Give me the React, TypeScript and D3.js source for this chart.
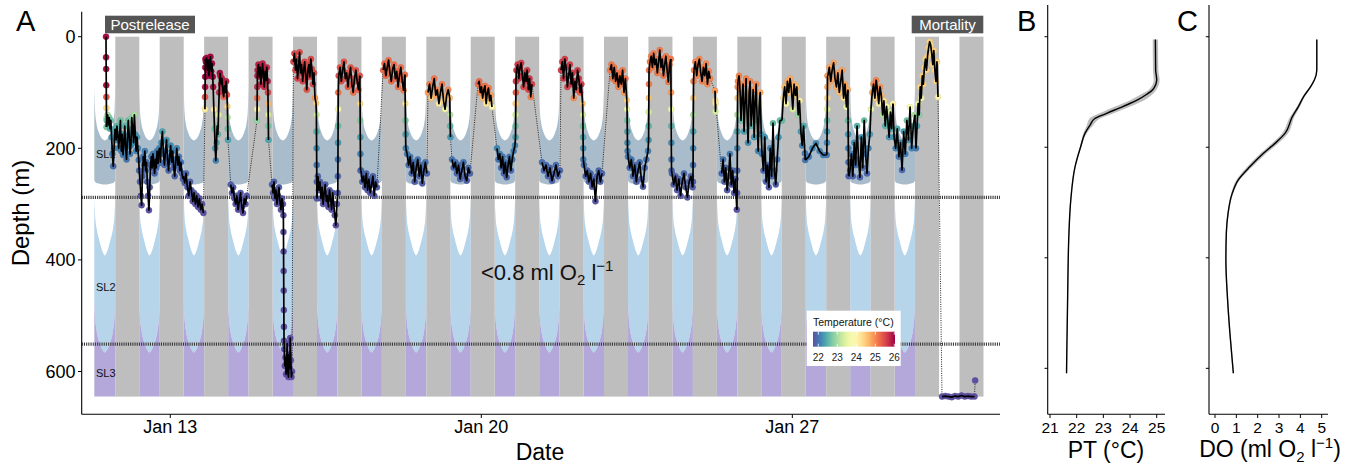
import React from 'react';
import * as d3 from 'd3';

const W = 1354;
const H = 466;
const FONT = 'Liberation Sans, Arial, Helvetica, sans-serif';

// ---------- data ----------
const nightStarts = [11.762, 12.762, 13.762, 14.762, 15.762, 16.762, 17.762, 18.762, 19.762, 20.762,
  21.762, 22.762, 23.762, 24.762, 25.762, 26.762, 27.762, 28.762, 29.762, 30.762];
const nightEnds = [12.302, 13.302, 14.302, 15.302, 16.302, 17.302, 18.302, 19.302, 20.302, 21.302,
  22.302, 23.302, 24.302, 25.302, 26.302, 27.302, 28.302, 29.302, 30.302, 31.302];
const dayStarts = [11.290, 12.302, 13.302, 14.302, 15.302, 16.302, 17.302, 18.302, 19.302, 20.302,
  21.302, 22.302, 23.302, 24.302, 25.302, 26.302, 27.302, 28.302, 29.302];
const dayEnds = [11.762, 12.762, 13.762, 14.762, 15.762, 16.762, 17.762, 18.762, 19.762, 20.762,
  21.762, 22.762, 23.762, 24.762, 25.762, 26.762, 27.762, 28.762, 29.762];
const seafloor = 645;

// scattering-layer boundaries across a daytime column (fraction of column)
const shapePos = [0, 0.04, 0.1, 0.2, 0.3, 0.4, 0.5, 0.6, 0.7, 0.8, 0.9, 0.96, 1];
const sl1Top = [90, 135, 155, 170, 179, 184, 186, 184, 179, 170, 155, 135, 90];
const sl1Bottom = [258, 260, 262, 263, 264, 265, 265, 265, 264, 263, 262, 260, 258];
const sl2Top = [290, 322, 342, 360, 374, 386, 392, 386, 374, 360, 342, 322, 290];
const sl3Top = [478, 505, 525, 543, 554, 562, 566, 562, 554, 543, 525, 505, 478];

const layerLines = [288, 551];
const layerLabels = [
  { name: 'SL1', depth: 210 },
  { name: 'SL2', depth: 448 },
  { name: 'SL3', depth: 602 },
];

const dateTicks = [13, 20, 27];
const dateTickLabels = ['Jan 13', 'Jan 20', 'Jan 27'];
const depthTicks = [0, 200, 400, 600];
const depthTickLabels = ['0', '200', '400', '600'];
const ptTicks = [21, 22, 23, 24, 25];
const doTicks = [0, 1, 2, 3, 4, 5];
const legendTicks = [22, 23, 24, 25, 26];

// Mean potential temperature profile (panel B)
const ptDepth = [5, 60, 78, 96, 105, 114, 126, 139, 148, 160, 175, 199, 235, 295, 356, 476, 609];
const ptTemp = [24.95, 24.96, 25.0, 24.85, 24.6, 24.3, 23.75, 23.1, 22.68, 22.5, 22.31, 22.15, 21.94, 21.78, 21.71, 21.66, 21.62];
const ptSpread = [0.1, 0.1, 0.11, 0.14, 0.22, 0.26, 0.28, 0.26, 0.2, 0.12, 0.06, 0.03, 0.02, 0.02, 0.02, 0.02, 0.02];

// Mean dissolved-oxygen profile (panel C)
const doDepth = [5, 60, 78, 90, 108, 127, 145, 175, 193, 211, 235, 259, 283, 320, 356, 404, 476, 537, 609];
const doVal = [4.77, 4.77, 4.66, 4.49, 4.16, 3.9, 3.62, 3.28, 2.81, 2.27, 1.64, 1.09, 0.81, 0.61, 0.53, 0.51, 0.59, 0.70, 0.86];
const doSpread = [0.03, 0.03, 0.03, 0.04, 0.05, 0.07, 0.1, 0.14, 0.15, 0.14, 0.12, 0.08, 0.05, 0.03, 0.03, 0.03, 0.03, 0.03, 0.03];

// Depth track: [start day, end day, gap before (dotted), mixed-layer temp, depths]
type Seg = [number, number, number, number, number[]];
const track: Seg[] = [
  [11.553, 11.566, 0, 26.0, [0, 37, 58, 87, 108, 128, 146, 162]],
  [11.570, 11.752, 0, 25.0, [150, 140, 158, 145, 165, 150, 180, 210, 232, 200, 170]],
  [11.760, 12.290, 0, 25.0, [165, 185, 160, 175, 200, 180, 150, 205, 175, 212, 190, 160, 200, 220, 185, 150, 175, 210, 195, 145, 165, 190, 140, 175, 205, 180, 200, 221]],
  [12.300, 12.720, 0, 25.0, [240, 260, 285, 302, 250, 215, 230, 205, 240, 225, 260, 285, 311, 270, 230, 215, 235, 210, 225, 245, 220, 235, 205, 228]],
  [12.730, 13.285, 0, 25.0, [215, 200, 225, 190, 170, 210, 230, 205, 185, 220, 240, 215, 195, 225, 205, 235, 250, 220, 200, 230, 215, 240, 225, 245, 255]],
  [13.295, 13.745, 0, 25.0, [250, 262, 245, 270, 285, 260, 275, 295, 280, 300, 285, 305, 290, 310, 300, 316]],
  [13.780, 13.790, 1, 26.0, [130, 108, 90, 72, 55, 40]],
  [13.800, 13.955, 0, 26.0, [45, 38, 60, 42, 70, 50, 36, 62, 48, 72]],
  [13.965, 14.115, 0, 26.0, [90, 130, 165, 200, 222, 190, 160, 175, 140, 100, 65]],
  [14.125, 14.275, 0, 25.8, [70, 85, 75, 95, 108, 88, 100, 80, 104]],
  [14.285, 14.298, 0, 25.8, [125, 145, 165, 185]],
  [14.360, 14.720, 1, 25.0, [265, 280, 270, 290, 300, 285, 310, 295, 280, 305, 316, 290, 300, 285]],
  [14.951, 14.960, 1, 25.8, [150, 130, 110, 90, 70]],
  [14.965, 15.190, 0, 25.8, [60, 50, 72, 55, 85, 65, 48, 70, 90, 62, 78, 55, 80]],
  [15.198, 15.210, 0, 25.8, [100, 120, 140, 160, 185]],
  [15.290, 15.535, 1, 25.0, [265, 280, 260, 290, 275, 300, 285, 270, 295, 310, 290, 300]],
  [15.545, 15.560, 0, 25.0, [320, 350, 385, 420, 455, 490, 520, 545]],
  [15.565, 15.740, 0, 25.0, [560, 590, 575, 605, 585, 550, 600, 610, 570, 595, 540, 580, 610, 600]],
  [15.770, 16.280, 1, 25.5, [45, 30, 60, 40, 75, 55, 28, 65, 50, 80, 60, 45, 70, 95, 60, 50, 72, 40, 58, 85, 65, 110, 119]],
  [16.288, 16.300, 0, 25.5, [140, 170, 200, 230, 260, 290]],
  [16.320, 16.750, 0, 25.0, [250, 275, 260, 290, 270, 300, 280, 265, 295, 285, 305, 275, 290, 310, 280, 300, 320, 338, 300]],
  [16.770, 16.780, 0, 25.4, [280, 250, 220, 190, 160, 130, 100]],
  [16.790, 17.265, 0, 25.4, [70, 55, 80, 60, 45, 75, 65, 90, 70, 55, 85, 100, 75, 60, 80, 95, 70]],
  [17.272, 17.282, 0, 25.4, [120, 150, 180, 210, 240]],
  [17.292, 17.650, 0, 25.0, [240, 260, 250, 270, 245, 275, 255, 280, 265, 250, 285, 260, 270]],
  [17.790, 18.280, 1, 25.2, [60, 48, 70, 55, 42, 65, 80, 58, 50, 75, 62, 90, 70, 55, 78, 96, 68]],
  [18.288, 18.300, 0, 25.2, [120, 150, 175, 200]],
  [18.330, 18.775, 0, 25.0, [210, 230, 215, 245, 225, 260, 235, 220, 250, 230, 263, 240, 225, 245]],
  [18.800, 19.290, 1, 25.1, [100, 85, 110, 90, 75, 105, 95, 120, 100, 85, 115, 130, 105, 95, 110]],
  [19.295, 19.305, 0, 25.1, [140, 160, 180]],
  [19.340, 19.745, 1, 25.0, [220, 235, 225, 245, 230, 255, 240, 225, 250, 258, 235, 245]],
  [19.925, 20.240, 1, 25.2, [85, 80, 100, 90, 110, 95, 88, 120, 100, 92, 115, 105, 126]],
  [20.353, 20.758, 1, 25.0, [200, 220, 210, 235, 215, 245, 225, 252, 230, 215, 240, 220, 205, 195]],
  [20.770, 20.780, 0, 25.6, [180, 160, 140, 120, 100, 80]],
  [20.790, 21.140, 0, 25.6, [60, 50, 75, 55, 47, 70, 90, 65, 80, 60, 95, 75, 108, 85]],
  [21.366, 21.770, 1, 25.0, [225, 240, 230, 250, 235, 258, 245, 230, 250, 240]],
  [21.794, 22.280, 1, 25.6, [60, 45, 75, 40, 55, 90, 70, 50, 85, 65, 110, 80, 95, 60, 75, 100, 85, 120]],
  [22.285, 22.295, 0, 25.6, [140, 160, 180, 200, 220]],
  [22.311, 22.716, 0, 25.0, [230, 250, 240, 260, 245, 269, 255, 295, 250, 240, 260, 245]],
  [22.897, 23.275, 1, 25.1, [60, 50, 75, 55, 80, 65, 90, 70, 85, 60, 100, 75, 114]],
  [23.280, 23.292, 0, 25.1, [130, 150, 170, 190, 205]],
  [23.302, 23.752, 0, 25.0, [215, 235, 220, 250, 230, 260, 240, 225, 255, 269, 235, 220, 205]],
  [23.765, 23.775, 0, 25.1, [185, 160, 135, 110, 85, 60]],
  [23.796, 24.265, 0, 25.1, [45, 35, 55, 30, 50, 40, 65, 45, 24, 55, 40, 70, 50, 35, 60, 81, 50, 40]],
  [24.270, 24.282, 0, 25.1, [100, 130, 160, 190, 220, 240]],
  [24.291, 24.755, 0, 25.0, [245, 265, 250, 275, 255, 285, 260, 245, 270, 288, 260, 250, 270]],
  [24.764, 24.776, 0, 25.0, [260, 230, 200, 170, 140, 110, 80]],
  [24.787, 25.150, 0, 25.0, [60, 45, 70, 50, 40, 65, 80, 55, 70, 48, 85, 62, 75]],
  [25.260, 25.275, 1, 25.0, [97, 115, 134, 120]],
  [25.410, 25.750, 1, 25.0, [245, 220, 260, 235, 275, 250, 210, 265, 240, 280, 255, 310]],
  [25.758, 25.770, 0, 25.0, [280, 240, 200, 170, 140, 110, 90]],
  [25.777, 26.300, 0, 25.0, [80, 70, 95, 150, 110, 85, 170, 120, 75, 140, 190, 100, 80, 160, 130, 95, 180, 115, 85, 150, 205, 120, 100, 175]],
  [26.318, 26.720, 0, 25.0, [210, 240, 180, 260, 230, 270, 200, 250, 155, 240, 265, 220, 180, 150]],
  [26.767, 27.283, 0, 24.7, [150, 110, 90, 120, 80, 100, 75, 95, 130, 85, 105, 90, 140, 115, 170, 195, 160, 209]],
  [27.290, 27.775, 0, 25.0, [221, 215, 200, 191, 205, 212, 212]],
  [27.780, 27.792, 0, 24.8, [190, 170, 150, 130, 110, 90, 70]],
  [27.800, 28.250, 0, 24.8, [70, 55, 80, 60, 47, 75, 90, 65, 100, 80, 60, 110, 85, 126, 95]],
  [28.255, 28.267, 0, 24.8, [150, 175, 200, 225, 250]],
  [28.298, 28.745, 0, 25.0, [240, 210, 250, 190, 230, 160, 220, 252, 180, 235, 150, 210, 245, 200, 175]],
  [28.770, 29.266, 0, 25.0, [130, 100, 85, 110, 78, 95, 120, 90, 105, 140, 115, 160, 125, 150, 180, 135, 165, 120]],
  [29.290, 29.758, 0, 25.0, [180, 200, 165, 215, 190, 239, 170, 210, 150, 185, 126, 200, 160, 140]],
  [29.784, 30.279, 0, 24.4, [200, 160, 120, 140, 90, 110, 70, 85, 55, 40, 60, 35, 20, 9, 15, 30, 50, 25, 60, 80, 45, 108]],
  [30.369, 31.100, 1, 25.0, [645, 644, 645, 646, 644, 645, 643, 645, 644, 645, 645]],
  [31.115, 31.115, 1, 25.0, [616]],
];

// ---------- scales ----------
const xA = d3.scaleLinear().domain([11.006, 31.674]).range([81.7, 1000]);
const yA = d3.scaleLinear().domain([-44.8, 676.7]).range([11.7, 414.3]);
const yP = d3.scaleLinear().domain([-57.4, 683.2]).range([5, 414.3]);
const xB = d3.scaleLinear().domain([21, 25]).range([1050, 1156.7]);
const xC = d3.scaleLinear().domain([0, 5]).range([1215, 1321.7]);
const legX = d3.scaleLinear().domain([22, 26]).range([818.3, 894.3]);

const tempDomain: [number, number] = [21.74, 26.05];
const colorOf = (v: number) => {
  const t = Math.max(0, Math.min(1, (v - tempDomain[0]) / (tempDomain[1] - tempDomain[0])));
  return d3.interpolateSpectral(1 - t);
};
const profT = d3.scaleLinear().domain(ptDepth).range(ptTemp).clamp(true);
const tempAt = (depth: number, mixed: number) => {
  const base = profT(depth);
  const w = Math.max(0, Math.min(1, (base - 21.62) / (24.95 - 21.62)));
  return base + (mixed - 24.95) * w;
};

type P = { t: number; d: number; c: string };

export default function App() {
  const segs: P[][] = track.map(([t0, t1, , mixed, ds]) =>
    ds.map((d, i) => ({
      t: ds.length > 1 ? t0 + (i * (t1 - t0)) / (ds.length - 1) : t0,
      d,
      c: colorOf(tempAt(d, mixed)),
    }))
  );
  const line = d3.line<P>().x((p) => xA(p.t)).y((p) => yA(p.d));

  const solidPaths: string[] = [];
  const dottedPaths: string[] = [];
  segs.forEach((s, i) => {
    if (s.length > 1) solidPaths.push(line(s) as string);
    if (i > 0) {
      const prev = segs[i - 1];
      const conn = line([prev[prev.length - 1], s[0]]) as string;
      if (track[i][2]) dottedPaths.push(conn);
      else solidPaths.push(conn);
    }
  });
  const allPts = segs.flat();

  const colArea = (t0: number, t1: number, top: number[], bot: number[]) => {
    const pts = shapePos.map((u, i) => ({ t: t0 + u * (t1 - t0), a: top[i], b: bot[i] }));
    return d3
      .area<{ t: number; a: number; b: number }>()
      .x((p) => xA(p.t))
      .y0((p) => yA(p.a))
      .y1((p) => yA(p.b))
      .curve(d3.curveMonotoneX)(pts) as string;
  };
  const floorArr = shapePos.map(() => seafloor);

  const ptPts = ptDepth.map((d, i) => ({ d, v: ptTemp[i], s: ptSpread[i] }));
  const doPts = doDepth.map((d, i) => ({ d, v: doVal[i], s: doSpread[i] }));
  type Q = { d: number; v: number; s: number };
  const profLine = (xs: d3.ScaleLinear<number, number>) =>
    d3.line<Q>().x((p) => xs(p.v)).y((p) => yP(p.d)).curve(d3.curveMonotoneY);
  const profArea = (xs: d3.ScaleLinear<number, number>) =>
    d3
      .area<Q>()
      .y((p) => yP(p.d))
      .x0((p) => xs(p.v - p.s))
      .x1((p) => xs(p.v + p.s))
      .curve(d3.curveMonotoneY);

  const gradStops = d3.range(0, 21).map((i) => {
    const v = tempDomain[0] + (i / 20) * (tempDomain[1] - tempDomain[0]);
    return { off: i / 20, c: colorOf(v) };
  });

  return (
    <svg
      width={W}
      height={H}
      style={{ position: 'absolute', left: 0, top: 0, background: '#ffffff' }}
      fontFamily={FONT}
    >
      <defs>
        <linearGradient id="tempGrad" x1="0" x2="1" y1="0" y2="0">
          {gradStops.map((s, i) => (
            <stop key={i} offset={s.off} stopColor={s.c} />
          ))}
        </linearGradient>
      </defs>
      <rect x={0} y={0} width={W} height={H} fill="#ffffff" />

      {/* ---------- Panel A ---------- */}
      {dayStarts.map((t0, i) => (
        <g key={'col' + i}>
          <path d={colArea(t0, dayEnds[i], sl1Top, sl1Bottom)} fill="#a8bccb" />
          <path d={colArea(t0, dayEnds[i], sl2Top, sl3Top)} fill="#b6d4ea" />
          <path d={colArea(t0, dayEnds[i], sl3Top, floorArr)} fill="#b3a8d9" />
        </g>
      ))}
      {nightStarts.map((t0, i) => (
        <rect
          key={'n' + i}
          x={xA(t0)}
          y={yA(0)}
          width={xA(nightEnds[i]) - xA(t0)}
          height={yA(seafloor) - yA(0)}
          fill="#bebebe"
        />
      ))}
      {layerLines.map((d) => (
        <line
          key={'ll' + d}
          x1={81.7}
          x2={1000}
          y1={yA(d)}
          y2={yA(d)}
          stroke="#3a3a3a"
          strokeWidth={3.2}
          strokeDasharray="1.1 1.1"
        />
      ))}
      {layerLabels.map((l) => (
        <text key={l.name} x={96} y={yA(l.depth) + 4} fontSize={11} fill="#111">
          {l.name}
        </text>
      ))}

      {/* track */}
      {dottedPaths.map((d, i) => (
        <path key={'dp' + i} d={d} fill="none" stroke="#222" strokeWidth={1} strokeDasharray="1 1.3" />
      ))}
      {allPts.map((p, i) => (
        <circle
          key={'pt' + i}
          cx={xA(p.t)}
          cy={yA(p.d)}
          r={3}
          fill={p.c}
          stroke={d3.color(p.c)!.darker(0.35).formatHex()}
          strokeWidth={0.5}
        />
      ))}
      {solidPaths.map((d, i) => (
        <path key={'sp' + i} d={d} fill="none" stroke="#000" strokeWidth={1.7} strokeLinejoin="round" />
      ))}

      <text x={481} y={280} fontSize={22} fill="#111">
        {'<0.8 ml O'}
        <tspan dy={5} fontSize={15}>2</tspan>
        <tspan dy={-5}>{' l'}</tspan>
        <tspan dy={-9} fontSize={15}>{'\u22121'}</tspan>
      </text>

      {/* event labels */}
      <rect x={105} y={15.7} width={90} height={17.6} fill="#555555" />
      <text x={150} y={30} fontSize={15} fill="#ffffff" textAnchor="middle">
        Postrelease
      </text>
      <rect x={911.7} y={15.7} width={71.6} height={17.6} fill="#555555" />
      <text x={947.5} y={30} fontSize={15} fill="#ffffff" textAnchor="middle">
        Mortality
      </text>

      {/* legend */}
      <rect x={806.7} y={310.7} width={94} height={55.3} fill="#ffffff" />
      <text x={813} y={326} fontSize={10.5} fill="#111">
        Temperature (°C)
      </text>
      <rect x={813} y={331.7} width={82} height={15} fill="url(#tempGrad)" />
      {legendTicks.map((v) => (
        <g key={'lt' + v}>
          <line x1={legX(v)} x2={legX(v)} y1={331.7} y2={334.7} stroke="#fff" strokeWidth={0.8} />
          <line x1={legX(v)} x2={legX(v)} y1={343.7} y2={346.7} stroke="#fff" strokeWidth={0.8} />
          <text x={legX(v)} y={361} fontSize={10} textAnchor="middle" fill="#222">
            {v}
          </text>
        </g>
      ))}

      {/* axes A */}
      <line x1={81.7} x2={81.7} y1={11.7} y2={414.3} stroke="#000" strokeWidth={1.1} />
      <line x1={81.7} x2={1000} y1={414.3} y2={414.3} stroke="#000" strokeWidth={1.1} />
      {depthTicks.map((d, i) => (
        <g key={'yt' + d}>
          <line x1={78} x2={81.7} y1={yA(d)} y2={yA(d)} stroke="#000" />
          <text x={75.5} y={yA(d) + 6.3} fontSize={18} textAnchor="end" fill="#000">
            {depthTickLabels[i]}
          </text>
        </g>
      ))}
      {dateTicks.map((d, i) => (
        <g key={'xt' + d}>
          <line x1={xA(d)} x2={xA(d)} y1={414.3} y2={418} stroke="#000" />
          <text x={xA(d)} y={433} fontSize={18} textAnchor="middle" fill="#000">
            {dateTickLabels[i]}
          </text>
        </g>
      ))}
      <text x={540} y={460} fontSize={23} textAnchor="middle" fill="#000">
        Date
      </text>
      <text transform="translate(29,213) rotate(-90)" fontSize={24} textAnchor="middle" fill="#000">
        Depth (m)
      </text>
      <text x={16} y={31} fontSize={29} fill="#000">
        A
      </text>

      {/* ---------- Panel B ---------- */}
      <text x={1017} y={31} fontSize={29} fill="#000">
        B
      </text>
      <path d={profArea(xB)(ptPts) as string} fill="#bdbdbd" />
      <path d={profLine(xB)(ptPts) as string} fill="none" stroke="#000" strokeWidth={1.4} />
      <line x1={1047.7} x2={1047.7} y1={5} y2={414.3} stroke="#000" strokeWidth={1.1} />
      <line x1={1047.7} x2={1165} y1={414.3} y2={414.3} stroke="#000" strokeWidth={1.1} />
      {depthTicks.map((d) => (
        <line key={'bt' + d} x1={1044.5} x2={1047.7} y1={yP(d)} y2={yP(d)} stroke="#000" />
      ))}
      {ptTicks.map((v) => (
        <g key={'bx' + v}>
          <line x1={xB(v)} x2={xB(v)} y1={414.3} y2={418} stroke="#000" />
          <text x={xB(v)} y={432.5} fontSize={15.5} textAnchor="middle" fill="#000">
            {v}
          </text>
        </g>
      ))}
      <text x={1106} y={458} fontSize={23} textAnchor="middle" fill="#000">
        PT (°C)
      </text>

      {/* ---------- Panel C ---------- */}
      <text x={1177} y={31} fontSize={29} fill="#000">
        C
      </text>
      <path d={profArea(xC)(doPts) as string} fill="#bdbdbd" />
      <path d={profLine(xC)(doPts) as string} fill="none" stroke="#000" strokeWidth={1.4} />
      <line x1={1209} x2={1209} y1={5} y2={414.3} stroke="#000" strokeWidth={1.1} />
      <line x1={1209} x2={1328} y1={414.3} y2={414.3} stroke="#000" strokeWidth={1.1} />
      {depthTicks.map((d) => (
        <line key={'ct' + d} x1={1205.8} x2={1209} y1={yP(d)} y2={yP(d)} stroke="#000" />
      ))}
      {doTicks.map((v) => (
        <g key={'cx' + v}>
          <line x1={xC(v)} x2={xC(v)} y1={414.3} y2={418} stroke="#000" />
          <text x={xC(v)} y={432.5} fontSize={15.5} textAnchor="middle" fill="#000">
            {v}
          </text>
        </g>
      ))}
      <text x={1270} y={457} fontSize={23} textAnchor="middle" fill="#000">
        {'DO (ml O'}
        <tspan dy={5} fontSize={15}>2</tspan>
        <tspan dy={-5}>{' l'}</tspan>
        <tspan dy={-9} fontSize={15}>{'\u22121'}</tspan>
        <tspan dy={9}>{')'}</tspan>
      </text>
    </svg>
  );
}
